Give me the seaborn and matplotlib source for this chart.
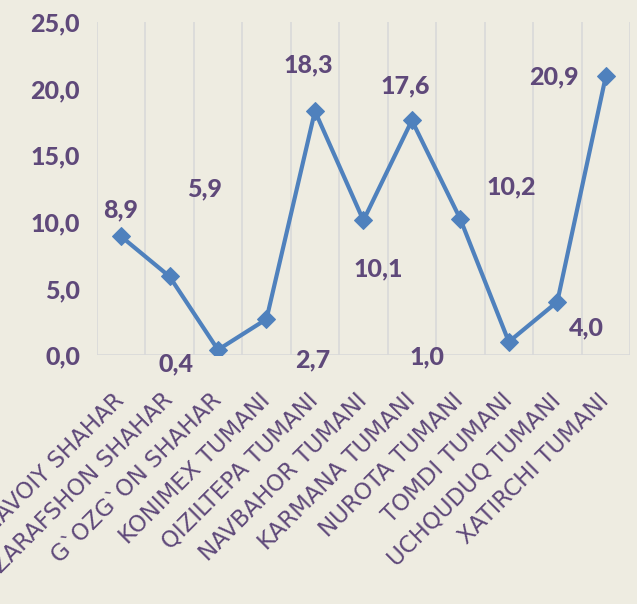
import matplotlib
matplotlib.use("Agg")
import matplotlib.pyplot as plt
import seaborn as sns
import pandas as pd

# data
districts = [
    "NAVOIY SHAHAR", "ZARAFSHON SHAHAR", "G`OZG`ON SHAHAR", "KONIMEX TUMANI",
    "QIZILTEPA TUMANI", "NAVBAHOR TUMANI", "KARMANA TUMANI", "NUROTA TUMANI",
    "TOMDI TUMANI", "UCHQUDUQ TUMANI", "XATIRCHI TUMANI",
]
values = [8.9, 5.9, 0.4, 2.7, 18.3, 10.1, 17.6, 10.2, 1.0, 4.0, 20.9]
y_ticks = [0, 5, 10, 15, 20, 25]

# label offsets in points (dx, dy) - placement only
label_offsets = [(0, 19), (25, 63), (-30, -10), (33, -29), (-5, 33), (11, -35),
                 (-5, 25), (37, 23), (-59, -11), (21, -19), (-37, 0)]

bg = "#EEECE1"
line_col = "#4F81BD"
text_col = "#5F497A"

sns.set_theme(style="white")
plt.rcParams["font.family"] = ["Lato", "DejaVu Sans"]

df = pd.DataFrame({"district": districts, "value": values})

fig = plt.figure(figsize=(6.37, 6.04), dpi=100, facecolor=bg)
ax = fig.add_axes([0.152, 0.412, 0.837, 0.552])
ax.set_facecolor(bg)

sns.lineplot(data=df, x="district", y="value", ax=ax, color=line_col,
             linewidth=3, marker="D", markersize=9, markeredgecolor=line_col,
             sort=False)

ax.set_xlim(-0.5, len(districts) - 0.5)
ax.set_ylim(0, 25)
ax.set_yticks(y_ticks)
ax.set_yticklabels([f"{t:.1f}".replace(".", ",") for t in y_ticks],
                   fontsize=18, fontweight="black", color=text_col)

# vertical gridlines between categories
for b in range(len(districts) + 1):
    ax.axvline(b - 0.5, color="#D9D9D9", linewidth=1.2, zorder=0)

ax.set_xticks(range(len(districts)))
ax.set_xticklabels(districts, rotation=45, ha="right", va="center",
                   rotation_mode="anchor", fontsize=16.5, color=text_col)
for t in ax.get_xticklabels():
    t.set_fontfamily("DejaVu Sans")
ax.tick_params(axis="x", length=0, pad=30)
ax.tick_params(axis="y", length=0, pad=12)

for s in ax.spines.values():
    s.set_visible(False)
ax.axhline(0, color="#D9D9D9", linewidth=1.2, zorder=0)

for i, (v, off) in enumerate(zip(values, label_offsets)):
    ax.annotate(f"{v:.1f}".replace(".", ","), (i, v), xytext=off,
                textcoords="offset points", ha="center", va="center",
                fontsize=18, fontweight="black", color=text_col)

ax.set_xlabel("")
ax.set_ylabel("")

fig.savefig("out.png", dpi=100, facecolor=bg)
